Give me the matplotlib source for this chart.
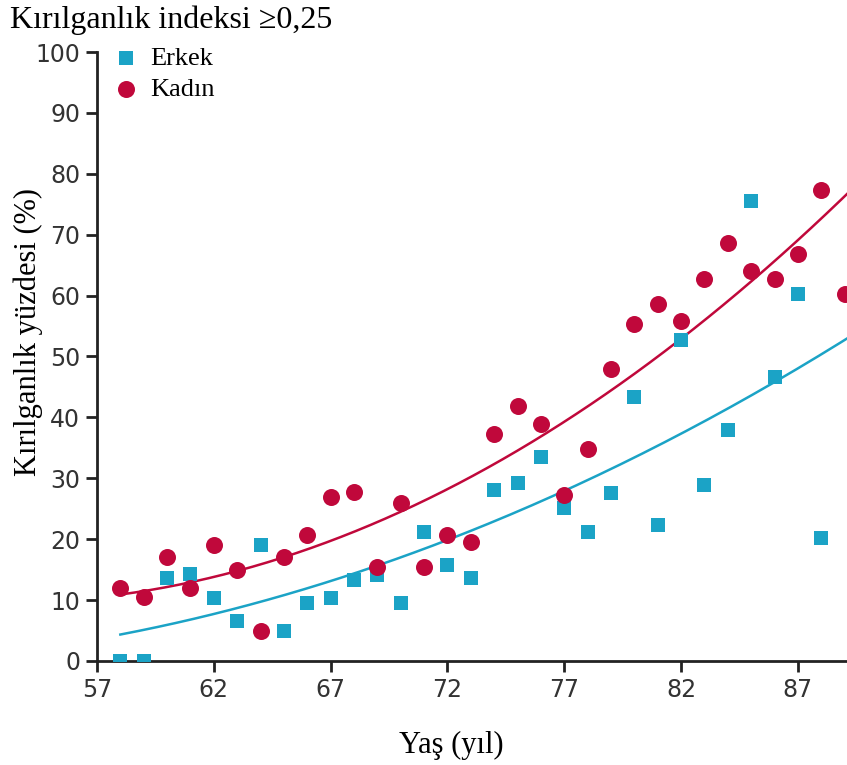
import numpy as np
import matplotlib
matplotlib.use("Agg")
import matplotlib.pyplot as plt

# values
ages_kadin = np.arange(58, 90)
kadin = [12.0, 10.5, 17.0, 12.0, 19.0, 15.0, 5.0, 17.0, 20.7, 27.0, 27.8, 15.4,
         26.0, 15.4, 20.7, 19.6, 37.3, 41.8, 38.9, 27.3, 34.8, 48.0, 55.4, 58.7,
         55.8, 62.7, 68.6, 64.0, 62.8, 66.9, 77.3, 60.3]

ages_erkek = np.arange(58, 89)
erkek = [0.0, 0.0, 13.6, 14.3, 10.3, 6.6, 19.0, 4.9, 9.5, 10.3, 13.3, 14.1,
         9.5, 21.2, 15.8, 13.6, 28.1, 29.2, 33.5, 25.1, 21.2, 27.6, 43.3, 22.3,
         52.7, 28.9, 37.9, 75.5, 46.6, 60.3, 20.2]

xticks = [57, 62, 67, 72, 77, 82, 87]
yticks = list(range(0, 101, 10))

c_erkek = "#1ba3c6"
c_kadin = "#c0083b"
serif = ["Liberation Serif", "DejaVu Serif"]

fig = plt.figure(figsize=(8.47, 7.65), dpi=100)
ax = fig.add_axes([0.1145, 0.136, 0.8855, 0.796])

# quadratic trend lines fitted to each series
xs = np.linspace(58, 89.3, 200)
pk = np.polyfit(ages_kadin, kadin, 2)
pe = np.polyfit(ages_erkek, erkek, 2)
ax.plot(xs, np.polyval(pk, xs), color=c_kadin, lw=1.8)
ax.plot(xs, np.polyval(pe, xs), color=c_erkek, lw=1.8)

ax.scatter(ages_erkek, erkek, marker="s", s=115, color=c_erkek, lw=0, label="Erkek", zorder=3)
ax.scatter(ages_kadin, kadin, marker="o", s=150, color=c_kadin, lw=0, label="Kadın", zorder=3)

ax.set_xlim(57, 89.1)
ax.set_ylim(0, 100)
ax.set_xticks(xticks)
ax.set_yticks(yticks)
for s in ["top", "right"]:
    ax.spines[s].set_visible(False)
for s in ["left", "bottom"]:
    ax.spines[s].set_linewidth(2)
    ax.spines[s].set_color("#222222")
ax.tick_params(direction="out", length=8, width=2, color="#222222",
               labelsize=17, labelcolor="#333333", pad=4)

ax.set_xlabel("Yaş (yıl)", family=serif, fontsize=22)
ax.xaxis.set_label_coords(0.473, -0.115)
ax.set_ylabel("Kırılganlık yüzdesi (%)", family=serif, fontsize=22)
ax.yaxis.set_label_coords(-0.072, 0.54)
fig.text(0.012, 0.974, "Kırılganlık indeksi ≥0,25", family=serif, fontsize=23,
         ha="left", va="center")

leg = ax.legend(loc="upper left", bbox_to_anchor=(-0.010, 1.035), frameon=False,
                prop={"family": serif, "size": 19}, handletextpad=0.1,
                handlelength=1.6, labelspacing=0.3, borderaxespad=0.2,
                scatterpoints=1)

fig.savefig("out.png", dpi=100)
